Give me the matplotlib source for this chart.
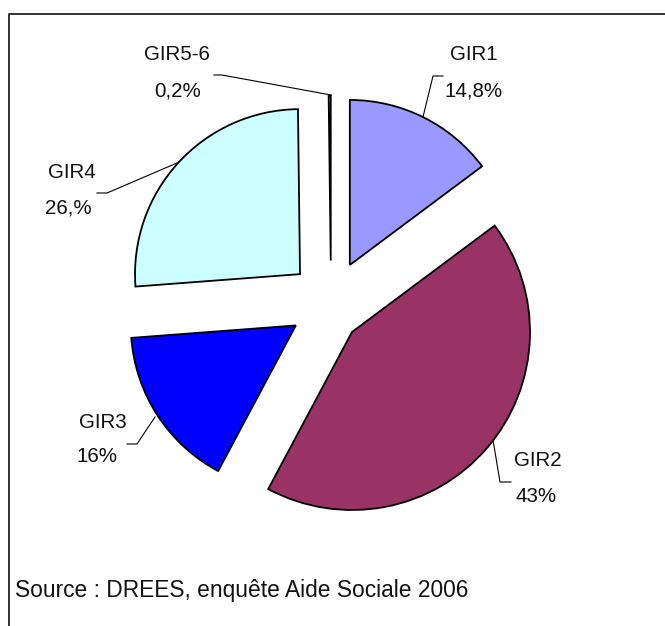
import matplotlib
matplotlib.use("Agg")
import matplotlib.pyplot as plt

# données
categories = ["GIR1", "GIR2", "GIR3", "GIR4", "GIR5-6"]
parts = [14.8, 43, 16, 26, 0.2]
pct_labels = ["14,8%", "43%", "16%", "26,%", "0,2%"]
colors = ["#9999FF", "#993366", "#0000FF", "#CCFFFF", "#FFFFCC"]
source = "Source : DREES, enquête Aide Sociale 2006"

W, H = 665, 626
font = ["Liberation Sans", "DejaVu Sans"]


def py(y):
    # coordonnées pixel (haut -> bas) vers axes
    return H - y


fig = plt.figure(figsize=(W / 100, H / 100), dpi=100)
ax = fig.add_axes([0, 0, 1, 1])

radius = 165
wedges, _ = ax.pie(parts, explode=[42] * len(parts), colors=colors,
                   startangle=90, counterclock=False, radius=radius,
                   center=(331, py(302.5)),
                   wedgeprops=dict(edgecolor="black", linewidth=1.3))

# la part GIR2 est dessinée un peu plus grande dans l'original
wedges[1].set_center((352, py(332)))
wedges[1].set_radius(178)

# étiquettes et lignes de rappel (position en pixels)
label_pos = {
    "GIR1": ((474, 55), (474, 91), [(423, 117), (433, 76), (443, 76)]),
    "GIR2": ((538, 461), (536, 497), [(493, 440), (500, 482), (511, 482)]),
    "GIR3": ((103, 422), (97, 457), [(155, 417), (137, 444), (127, 444)]),
    "GIR4": ((72, 173), (68, 208), [(177, 163), (107, 193), (97, 193)]),
    "GIR5-6": ((177, 55), (178, 91), [(331, 95), (222, 75), (214, 75)]),
}
for cat, pct in zip(categories, pct_labels):
    (x1, y1), (x2, y2), pts = label_pos[cat]
    ax.text(x1, py(y1), cat, ha="center", va="center", fontsize=14.8,
            family=font, color="#111111")
    ax.text(x2, py(y2), pct, ha="center", va="center", fontsize=14.8,
            family=font, color="#111111")
    ax.plot([p[0] for p in pts], [py(p[1]) for p in pts], color="black", lw=0.8)

ax.text(15, py(597), source, ha="left", va="baseline", fontsize=16.4,
        family=font, color="#111111")

# cadre
ax.plot([8.5, 8.5, W], [py(H), py(14), py(14)], color="#222222", lw=1.3,
        solid_capstyle="butt")

ax.set_xlim(0, W)
ax.set_ylim(0, H)
ax.set_aspect("equal")
ax.axis("off")

fig.savefig("out.png", dpi=100)
